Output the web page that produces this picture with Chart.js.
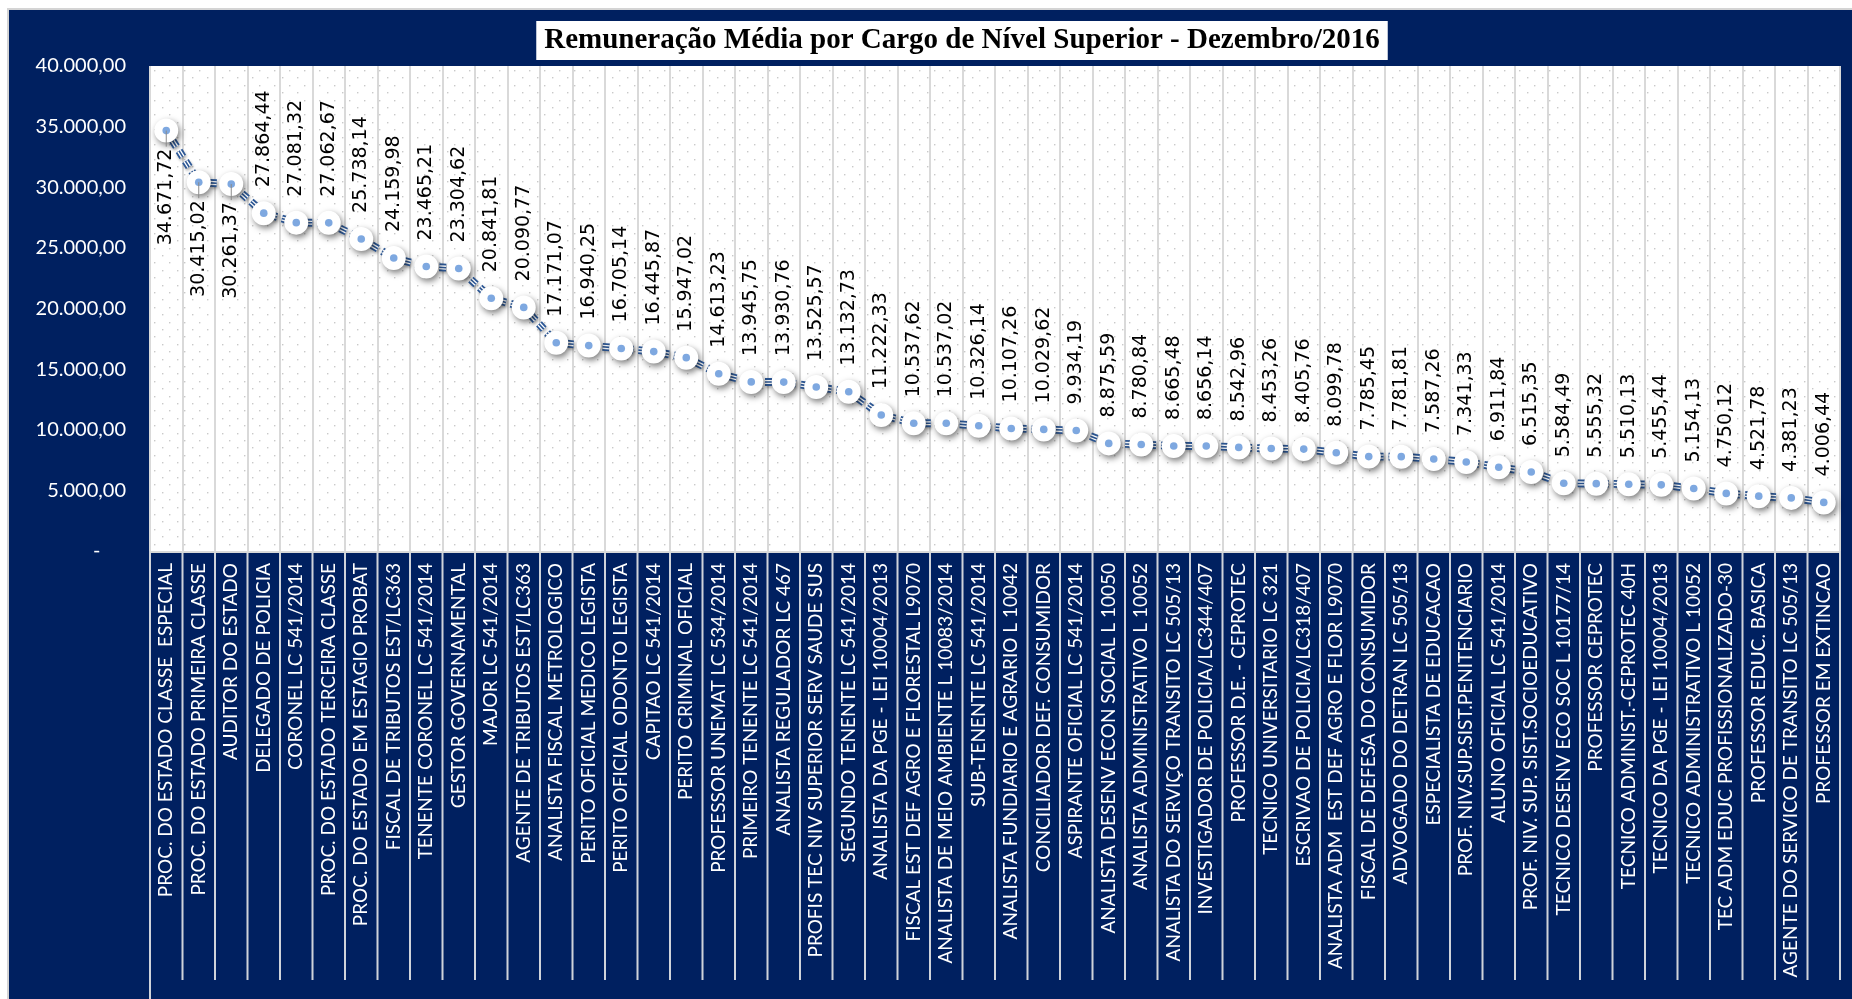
<!DOCTYPE html>
<html>
<head>
<meta charset="utf-8">
<script src="https://cdn.jsdelivr.net/npm/chart.js@4/dist/chart.umd.min.js"></script>
<style>
  html, body { margin: 0; padding: 0; background: #ffffff; overflow: hidden; }
  #wrap { position: absolute; left: 0; top: 0; width: 1852px; height: 999px; }
</style>
</head>
<body>
<div id="wrap"><canvas id="c"></canvas></div>
<script>
// ---------- DATA ----------
const chartTitle = 'Remuneração Média por Cargo de Nível Superior - Dezembro/2016';

const categories = [
  'PROC. DO ESTADO CLASSE  ESPECIAL',
  'PROC. DO ESTADO PRIMEIRA CLASSE',
  'AUDITOR DO ESTADO',
  'DELEGADO DE POLICIA',
  'CORONEL LC 541/2014',
  'PROC. DO ESTADO TERCEIRA CLASSE',
  'PROC. DO ESTADO EM ESTAGIO PROBAT',
  'FISCAL DE TRIBUTOS EST/LC363',
  'TENENTE CORONEL LC 541/2014',
  'GESTOR GOVERNAMENTAL',
  'MAJOR LC 541/2014',
  'AGENTE DE TRIBUTOS EST/LC363',
  'ANALISTA FISCAL METROLOGICO',
  'PERITO OFICIAL MEDICO LEGISTA',
  'PERITO OFICIAL ODONTO LEGISTA',
  'CAPITAO LC 541/2014',
  'PERITO CRIMINAL OFICIAL',
  'PROFESSOR UNEMAT LC 534/2014',
  'PRIMEIRO TENENTE LC 541/2014',
  'ANALISTA REGULADOR LC 467',
  'PROFIS TEC NIV SUPERIOR SERV SAUDE SUS',
  'SEGUNDO TENENTE LC 541/2014',
  'ANALISTA DA PGE - LEI 10004/2013',
  'FISCAL EST DEF AGRO E FLORESTAL L9070',
  'ANALISTA DE MEIO AMBIENTE L 10083/2014',
  'SUB-TENENTE LC 541/2014',
  'ANALISTA FUNDIARIO E AGRARIO L 10042',
  'CONCILIADOR DEF. CONSUMIDOR',
  'ASPIRANTE OFICIAL LC 541/2014',
  'ANALISTA DESENV ECON SOCIAL L 10050',
  'ANALISTA ADMINISTRATIVO L 10052',
  'ANALISTA DO SERVIÇO TRANSITO LC 505/13',
  'INVESTIGADOR DE POLICIA/LC344/407',
  'PROFESSOR D.E. - CEPROTEC',
  'TECNICO UNIVERSITARIO LC 321',
  'ESCRIVAO DE POLICIA/LC318/407',
  'ANALISTA ADM  EST DEF AGRO E FLOR L9070',
  'FISCAL DE DEFESA DO CONSUMIDOR',
  'ADVOGADO DO DETRAN LC 505/13',
  'ESPECIALISTA DE EDUCACAO',
  'PROF. NIV.SUP.SIST.PENITENCIARIO',
  'ALUNO OFICIAL LC 541/2014',
  'PROF. NIV. SUP. SIST.SOCIOEDUCATIVO',
  'TECNICO DESENV ECO SOC L 10177/14',
  'PROFESSOR CEPROTEC',
  'TECNICO ADMINIST.-CEPROTEC 40H',
  'TECNICO DA PGE - LEI 10004/2013',
  'TECNICO ADMINISTRATIVO L 10052',
  'TEC ADM EDUC PROFISSIONALIZADO-30',
  'PROFESSOR EDUC. BASICA',
  'AGENTE DO SERVICO DE TRANSITO LC 505/13',
  'PROFESSOR EM EXTINCAO'
];

const salaries = [
  34671.72, 30415.02, 30261.37, 27864.44, 27081.32, 27062.67, 25738.14, 24159.98,
  23465.21, 23304.62, 20841.81, 20090.77, 17171.07, 16940.25, 16705.14, 16445.87,
  15947.02, 14613.23, 13945.75, 13930.76, 13525.57, 13132.73, 11222.33, 10537.62,
  10537.02, 10326.14, 10107.26, 10029.62, 9934.19, 8875.59, 8780.84, 8665.48,
  8656.14, 8542.96, 8453.26, 8405.76, 8099.78, 7785.45, 7781.81, 7587.26,
  7341.33, 6911.84, 6515.35, 5584.49, 5555.32, 5510.13, 5455.44, 5154.13,
  4750.12, 4521.78, 4381.23, 4006.44
];

const yTickValues = [0, 5000, 10000, 15000, 20000, 25000, 30000, 35000, 40000];

// ---------- HELPERS ----------
function fmtBR(v) {
  const parts = v.toFixed(2).split('.');
  return parts[0].replace(/\B(?=(\d{3})+(?!\d))/g, '.') + ',' + parts[1];
}

const NAVY = '#002060';

// shift the title block so that it is centred like the reference
const titlePlacePlugin = {
  id: 'titlePlace',
  afterLayout(chart) {
    const tb = chart.titleBlock;
    if (tb) { tb.left = 72; tb.right = chart.width; tb.width = tb.right - tb.left; }
  }
};

// background, plot area, dot pattern, axis-area separators, title box
const backgroundPlugin = {
  id: 'bg',
  beforeDraw(chart) {
    const ctx = chart.ctx;
    const W = chart.width, H = chart.height;
    const ca = chart.chartArea;
    ctx.save();
    ctx.fillStyle = '#ffffff';
    ctx.fillRect(0, 0, W, H);
    ctx.fillStyle = '#d4d4d4';
    ctx.fillRect(7, 8, W - 7, H - 8);
    ctx.fillStyle = NAVY;
    ctx.fillRect(9, 10, W - 9, H - 10);

    // plot area
    ctx.fillStyle = '#ffffff';
    ctx.fillRect(ca.left, ca.top, ca.right - ca.left, ca.bottom - ca.top);

    // dotted pattern
    ctx.fillStyle = '#c9c9c9';
    let row = 0;
    for (let y = ca.top + 4; y < ca.bottom - 2; y += 7.4, row++) {
      const off = (row % 2) ? 7.5 : 0;
      for (let x = ca.left + 4 + off; x < ca.right; x += 15) {
        ctx.fillRect(Math.round(x), Math.round(y), 1.4, 1.4);
      }
    }

    // separators in the category axis area
    const xs = chart.scales.x;
    const n = categories.length;
    const step = n > 1 ? (xs.getPixelForTick(1) - xs.getPixelForTick(0)) : 30;
    ctx.strokeStyle = '#cfd3da';
    ctx.lineWidth = 2;
    for (let i = 0; i <= n; i++) {
      const x = xs.getPixelForTick(Math.min(i, n - 1)) + (i === n ? step / 2 : -step / 2);
      ctx.beginPath();
      ctx.moveTo(x, ca.bottom);
      ctx.lineTo(x, i === 0 ? H : 980);
      ctx.stroke();
    }
    ctx.strokeStyle = '#d9d9d9';
    ctx.beginPath();
    ctx.moveTo(ca.left, ca.bottom + 1);
    ctx.lineTo(ca.right, ca.bottom + 1);
    ctx.stroke();

    // title box
    const tb = chart.titleBlock;
    if (tb) {
      const f = chart.options.plugins.title.font;
      ctx.font = `${f.weight} ${f.size}px ${f.family}`;
      const tw = ctx.measureText(chartTitle).width;
      const cx = (tb.left + tb.right) / 2;
      ctx.fillStyle = '#ffffff';
      ctx.fillRect(cx - tw / 2 - 8, 21, tw + 16, 39);
    }
    ctx.restore();
  }
};

// shadows for markers and the line
const shadowPlugin = {
  id: 'markerShadow',
  beforeDatasetDraw(chart, args) {
    const ctx = chart.ctx;
    if (args.index === 1) {
      ctx.save();
      ctx.shadowColor = 'rgba(0,0,0,0.5)';
      ctx.shadowBlur = 6;
      ctx.shadowOffsetX = 2;
      ctx.shadowOffsetY = 3;
    } else if (args.index === 4) {
      ctx.save();
      ctx.shadowColor = 'rgba(0,0,0,0.3)';
      ctx.shadowBlur = 3;
      ctx.shadowOffsetX = 1;
      ctx.shadowOffsetY = 2;
    }
  },
  afterDatasetDraw(chart, args) {
    if (args.index === 1 || args.index === 4) chart.ctx.restore();
  }
};

// rotated value labels
const valueLabelPlugin = {
  id: 'valueLabels',
  afterDatasetsDraw(chart) {
    const ctx = chart.ctx;
    const meta = chart.getDatasetMeta(1);
    const ca = chart.chartArea;
    ctx.save();
    ctx.font = '19px "DejaVu Sans", sans-serif';
    ctx.fillStyle = '#000000';
    ctx.textBaseline = 'middle';
    meta.data.forEach((pt, i) => {
      const txt = fmtBR(salaries[i]);
      const w = ctx.measureText(txt).width;
      const above = (pt.y - 26 - w) >= ca.top + 6;
      if (!above) {
        ctx.strokeStyle = '#8a8a8a';
        ctx.lineWidth = 1;
        ctx.beginPath();
        ctx.moveTo(pt.x, pt.y);
        ctx.lineTo(pt.x, pt.y + 16);
        ctx.stroke();
      }
      ctx.save();
      if (above) {
        ctx.translate(pt.x, pt.y - 26);
        ctx.rotate(-Math.PI / 2);
        ctx.textAlign = 'left';
      } else {
        ctx.translate(pt.x, pt.y + 18);
        ctx.rotate(-Math.PI / 2);
        ctx.textAlign = 'right';
      }
      ctx.fillText(txt, 0, 0);
      ctx.restore();
    });
    ctx.restore();
  }
};

const dash = [7, 5];
const ctxEl = document.getElementById('c');
new Chart(ctxEl, {
  type: 'line',
  data: {
    labels: categories,
    datasets: [
      { data: salaries, showLine: false, pointRadius: 3.8, pointBackgroundColor: '#7ea8e0', pointBorderWidth: 0 },
      { data: salaries, showLine: false, pointRadius: 12, pointBackgroundColor: '#ffffff', pointBorderWidth: 0 },
      { data: salaries, borderColor: '#2d5896', borderWidth: 1.6, borderDash: dash, pointRadius: 0, tension: 0, fill: false },
      { data: salaries, borderColor: '#ffffff', borderWidth: 4.2, borderDash: dash, pointRadius: 0, tension: 0, fill: false },
      { data: salaries, borderColor: '#2d5896', borderWidth: 7.8, borderDash: dash, pointRadius: 0, tension: 0, fill: false }
    ]
  },
  options: {
    responsive: true,
    maintainAspectRatio: false,
    animation: false,
    events: [],
    layout: { padding: { left: 0, right: 0, top: 0, bottom: 0 } },
    plugins: {
      legend: { display: false },
      tooltip: { enabled: false },
      title: {
        display: true,
        text: chartTitle,
        color: '#000000',
        font: { family: '"Liberation Serif", serif', size: 29, weight: 'bold' },
        padding: { top: 23, bottom: 8.2 }
      }
    },
    scales: {
      x: {
        offset: true,
        grid: { display: true, offset: true, color: '#d9d9d9', lineWidth: 2, drawTicks: false },
        border: { display: false },
        ticks: {
          color: '#ffffff',
          font: { family: 'Lato, sans-serif', size: 19 },
          autoSkip: false,
          maxRotation: 90,
          minRotation: 90,
          padding: 12
        },
        afterFit(scale) { scale.height = 448; scale.paddingLeft = 0; scale.paddingRight = 0; }
      },
      y: {
        min: 0,
        max: 40000,
        afterBuildTicks(scale) { scale.ticks = yTickValues.map(v => ({ value: v })); },
        grid: { display: false, drawTicks: false },
        border: { display: false },
        ticks: {
          color: '#ffffff',
          font: { family: 'Lato, sans-serif', size: 20 },
          padding: 24,
          callback: (v) => v === 0 ? '-     ' : fmtBR(v)
        },
        afterFit(scale) { scale.width = 150; scale.paddingTop = 0; scale.paddingBottom = 0; }
      }
    }
  },
  plugins: [titlePlacePlugin, backgroundPlugin, shadowPlugin, valueLabelPlugin]
});
</script>
</body>
</html>
